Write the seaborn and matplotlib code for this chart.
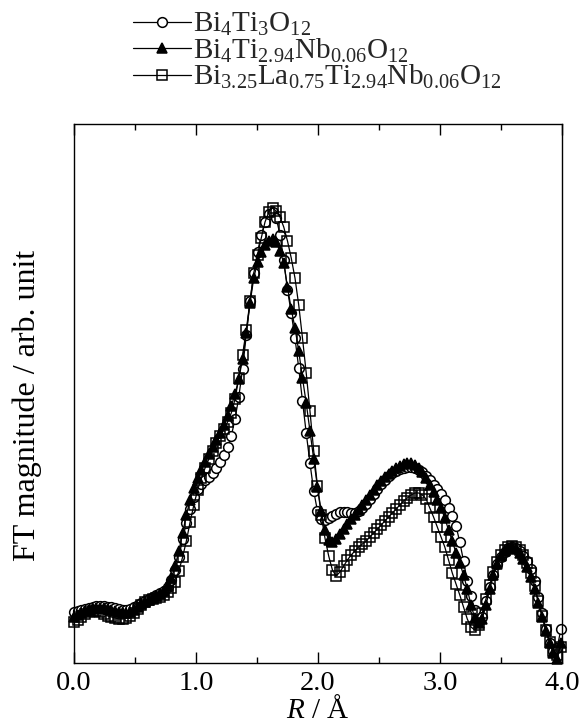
import numpy as np
import pandas as pd
import matplotlib
matplotlib.use("Agg")
import matplotlib.pyplot as plt
import seaborn as sns

# ---- data (FT magnitude, arbitrary units) ----
dr = 0.0307
R = np.round(np.arange(131) * dr, 4)

bto = [51, 52, 53, 54, 55, 56, 57, 57, 57, 56,
       56, 55, 54, 53, 53, 54, 56, 58, 60, 62,
       64, 66, 68, 70, 72, 76, 83, 93, 106, 124,
       140, 154, 166, 174, 179, 183, 186, 190, 195, 201,
       208, 216, 227, 244, 266, 294, 328, 362, 390, 411,
       428, 441, 449, 451, 445, 428, 403, 373, 350, 325,
       295, 262, 230, 200, 172, 152, 144, 143, 145, 147,
       149, 151, 151, 151, 150, 150, 152, 155, 159, 164,
       169, 174, 179, 183, 187, 190, 192, 194, 195, 196,
       196, 195, 193, 191, 187, 183, 178, 174, 169, 163,
       155, 147, 137, 121, 102, 82, 67, 53, 42, 46,
       62, 76, 88, 99, 106, 111, 115, 116, 115, 112,
       107, 102, 94, 82, 66, 50, 34, 20, 12, 15,
       34]

btno = [46, 48, 50, 52, 53, 54, 55, 55, 55, 54,
        53, 52, 51, 50, 50, 51, 53, 56, 59, 61,
        63, 65, 67, 69, 72, 77, 85, 97, 112, 130,
        148, 163, 175, 185, 193, 201, 209, 216, 223, 230,
        238, 247, 257, 269, 284, 304, 330, 360, 385, 401,
        411, 418, 422, 424, 421, 412, 400, 376, 354, 335,
        312, 285, 260, 232, 204, 176, 152, 133, 123, 121,
        124, 129, 134, 139, 144, 148, 153, 158, 163, 168,
        173, 178, 182, 186, 189, 192, 195, 197, 199, 200,
        200, 198, 195, 191, 185, 178, 171, 163, 155, 145,
        133, 122, 110, 100, 88, 74, 58, 45, 40, 44,
        58, 74, 88, 99, 107, 112, 115, 116, 114, 110,
        104, 96, 86, 74, 60, 46, 32, 20, 10, 4,
        20]

blnto = [41, 43, 46, 49, 51, 52, 52, 51, 49, 47,
         46, 45, 44, 44, 45, 47, 50, 54, 58, 61,
         63, 64, 65, 66, 68, 71, 75, 81, 92, 106,
         122, 141, 158, 173, 185, 195, 204, 212, 220, 227,
         234, 241, 250, 264, 285, 308, 333, 362, 390, 408,
         425, 441, 451, 455, 452, 446, 436, 422, 405, 385,
         358, 325, 290, 252, 212, 177, 148, 125, 107, 93,
         87, 91, 97, 103, 108, 112, 116, 119, 122, 126,
         130, 134, 138, 142, 146, 150, 154, 158, 162, 165,
         168, 170, 170, 168, 164, 155, 146, 136, 126, 116,
         103, 90, 79, 68, 56, 44, 36, 33, 38, 50,
         64, 78, 91, 101, 108, 113, 116, 117, 116, 113,
         108, 100, 90, 77, 62, 47, 33, 21, 12, 8,
         16]

labels = [r'Bi$_\mathregular{4}$Ti$_\mathregular{3}$O$_\mathregular{12}$',
          r'Bi$_\mathregular{4}$Ti$_\mathregular{2.94}$Nb$_\mathregular{0.06}$O$_\mathregular{12}$',
          r'Bi$_\mathregular{3.25}$La$_\mathregular{0.75}$Ti$_\mathregular{2.94}$Nb$_\mathregular{0.06}$O$_\mathregular{12}$']
xticks = [0.0, 1.0, 2.0, 3.0, 4.0]
xticklabels = ['0.0', '1.0', '2.0', '3.0', '4.0']

# ---- style ----
sns.set_theme(style='ticks')
plt.rcParams['font.family'] = ['Liberation Serif', 'DejaVu Serif']
plt.rcParams['mathtext.fontset'] = 'custom'
plt.rcParams['mathtext.rm'] = 'Liberation Serif'
plt.rcParams['mathtext.it'] = 'Liberation Serif:italic'
plt.rcParams['mathtext.bf'] = 'Liberation Serif:bold'

fig = plt.figure(figsize=(5.81, 7.27), dpi=100)
ax = fig.add_axes([74/581, 64/727, (562-74)/581, (663-124)/727])

styles = [
    dict(marker='o', markerfacecolor='white', markeredgecolor='black', markersize=7),
    dict(marker='^', markerfacecolor='black', markeredgecolor='black', markersize=7),
    dict(marker='s', markerfacecolor='none', markeredgecolor='black', markersize=7),
]
for vals, lab, st in zip([bto, btno, blnto], labels, styles):
    df = pd.DataFrame({'R': R, 'FT': vals})
    sns.lineplot(data=df, x='R', y='FT', ax=ax, color='black', linewidth=0.9,
                 markeredgewidth=1.1, label=lab, clip_on=False,
                 estimator=None, sort=False, **st)

ax.set_xlim(0, 4.0)
ax.set_ylim(0, 539)
ax.set_xticks(xticks)
ax.set_xticklabels(xticklabels)
ax.set_xticks([0.5, 1.5, 2.5, 3.5], minor=True)
ax.set_yticks([])
ax.tick_params(axis='x', which='both', direction='in', top=True, bottom=True,
               labelsize=20.5, width=1.0, pad=6, colors='black')
ax.tick_params(axis='x', which='major', length=8)
ax.tick_params(axis='x', which='minor', length=4.5)
for s in ax.spines.values():
    s.set_visible(True)
    s.set_linewidth(1.0)
    s.set_color('black')

ax.set_xlabel(r'$\mathit{R}$ / Å', fontsize=21, labelpad=0, color='black')
ax.set_ylabel('FT magnitude / arb. unit', fontsize=23, color='black')
ax.yaxis.set_label_coords(-0.066, 0.478)

h, l = ax.get_legend_handles_labels()
ax.legend(h, l, loc='upper left', bbox_to_anchor=(133/581, 1 - 11/727),
          bbox_transform=fig.transFigure, frameon=False, fontsize=21,
          handlelength=2.0, handletextpad=0.05, labelspacing=-0.06,
          borderpad=0, borderaxespad=0)

fig.savefig('out.png', dpi=100, facecolor='white')
